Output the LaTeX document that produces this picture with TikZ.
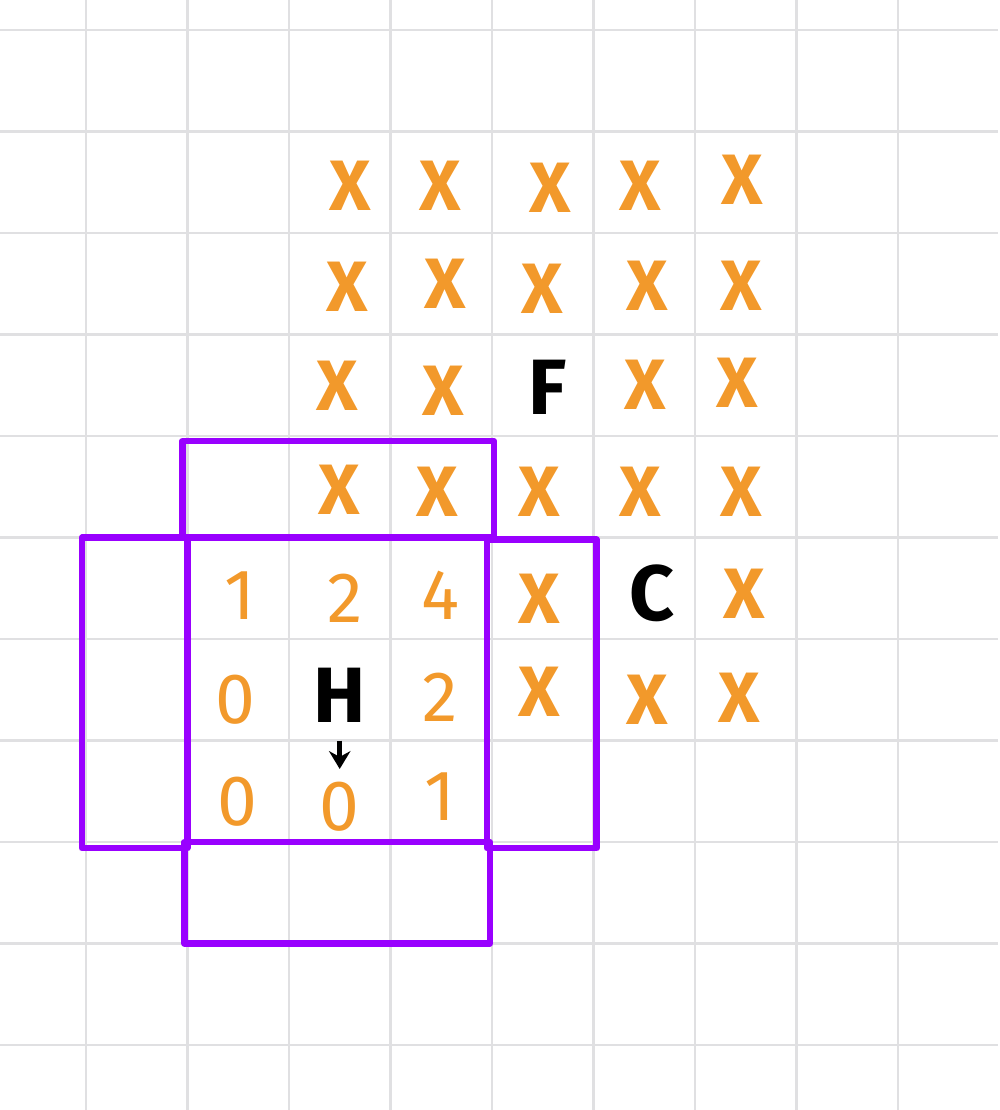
\documentclass[tikz,border=0pt]{standalone}
\usepackage{fontspec}
\setmainfont{Fira Sans}
\definecolor{MarkOrange}{RGB}{242,153,43}
\definecolor{BoxPurple}{RGB}{153,0,255}
\definecolor{GridGray}{RGB}{224,224,226}
\usetikzlibrary{arrows.meta}
\tikzset{
  cross/.style={text=MarkOrange, font=\fontsize{20}{20}\selectfont\bfseries, inner sep=0pt},
  digit/.style={text=MarkOrange, font=\fontsize{20}{20}\selectfont, inner sep=0pt},
  tag/.style={text=black, font=\fontsize{22}{22}\selectfont\bfseries, inner sep=0pt},
  padbox/.style={draw=BoxPurple, line width=1.8pt, line join=round},
}

\begin{document}
\begin{tikzpicture}
  \useasboundingbox (-0.847,0.296) rectangle (9.005,-10.64);
  \draw[GridGray, line width=0.8pt] (-0.847,0.296) grid (8.99,-10.64);

  % padding frames round the 3x3 block
  \draw[padbox] (1.0,-5.0) rectangle (3.95,-8.0);
  \draw[padbox] (0.95,-4.05) rectangle (4.02,-5.0);
  \draw[padbox] (-0.04,-5.0) rectangle (1.0,-8.06);
  \draw[padbox] (3.95,-5.02) rectangle (5.03,-8.06);
  \draw[padbox] (0.97,-8.0) rectangle (3.98,-9.0);

  % unknown cells
  \foreach \px/\py [count=\i] in {
      2.60/-1.53, 3.49/-1.53, 4.57/-1.55, 5.46/-1.53, 6.47/-1.48,
      2.57/-2.53, 3.54/-2.50, 4.50/-2.55, 5.53/-2.52, 6.46/-2.52,
      2.48/-3.50, 3.52/-3.55, 5.51/-3.49, 6.42/-3.48,
      2.50/-4.53, 3.46/-4.55, 4.47/-4.55, 5.46/-4.55, 6.46/-4.55,
      4.47/-5.60, 6.49/-5.55,
      4.47/-6.52, 5.53/-6.60, 6.44/-6.58}
    \node[cross] (x\i) at (\px,\py) {X};

  % known values
  \foreach \px/\py/\val [count=\i] in {
      1.52/-5.57/1, 2.55/-5.60/2, 3.49/-5.57/4,
      1.47/-6.60/0, 3.49/-6.57/2,
      1.49/-7.60/0, 2.50/-7.65/0, 3.49/-7.55/1}
    \node[digit] (v\i) at (\px,\py) {\val};

  \node[tag] (F) at (4.55,-3.52) {F};
  \node[tag] (C) at (5.58,-5.55) {C};
  \node[tag] (H) at (2.50,-6.55) {H};

  \coordinate (Hto) at (2.50,-7.28);
  \draw[line width=1.4pt, -{Stealth[length=5pt,width=6pt]}] ([yshift=-5pt]H.south) -- (Hto);
\end{tikzpicture}
\end{document}
